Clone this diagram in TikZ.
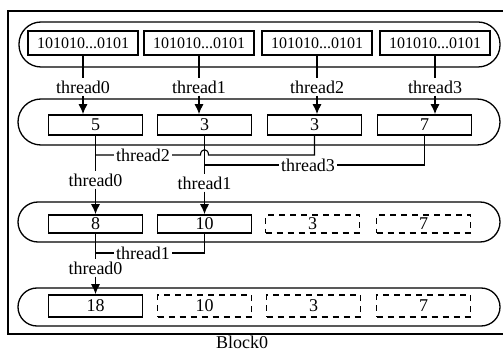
\documentclass[tikz,border=0pt]{standalone}
\usepackage{fontspec}
\setmainfont{Liberation Serif}
\usetikzlibrary{arrows.meta}

\begin{document}
\begin{tikzpicture}[x=0.5pt,y=-0.5pt,
  cell/.style={draw,line width=0.85pt,minimum width=47pt,minimum height=10pt,
    inner sep=0pt,font=\fontsize{9}{10}\selectfont},
  bits/.style={cell,minimum width=55pt,minimum height=12pt,font=\fontsize{8}{9}\selectfont},
  ghost/.style={cell,dash pattern=on 3pt off 2.5pt},
  lane/.style={line width=0.65pt,rounded corners=#1},
  tname/.style={inner sep=1pt,font=\fontsize{9}{10}\selectfont},
  tlink/.style={line width=0.55pt},
  >={Latex[length=5pt,width=4.5pt]}]
\useasboundingbox (0,0) rectangle (503,352);
% frame and lanes
\draw[line width=0.65pt] (503,11) -| (8,334) -- (503,334);
\draw[lane=11pt] (19,22) rectangle (500,67);
\draw[lane=11.5pt] (18,99) rectangle (500,145);
\draw[lane=10pt] (18,202) rectangle (500,242);
\draw[lane=9.5pt] (18,288) rectangle (500,326);
% cells
\node[bits] (a1) at (83,43) {101010...0101};
\node[bits] (a2) at (199,43) {101010...0101};
\node[bits] (a3) at (317,43) {101010...0101};
\node[bits] (a4) at (435,43) {101010...0101};
\node[cell] (b1) at (95.5,125) {5};
\node[cell] (b2) at (204.5,125) {3};
\node[cell] (b3) at (314.5,125) {3};
\node[cell] (b4) at (424.5,125) {7};
\node[cell,minimum height=9pt] (c1) at (95.5,224) {8};
\node[cell,minimum height=9pt] (c2) at (204.5,224) {10};
\node[ghost,minimum height=9pt] (c3) at (312.5,224) {3};
\node[ghost,minimum height=9pt] (c4) at (423.5,224) {7};
\node[cell,minimum height=11pt] (d1) at (95.5,306) {18};
\node[ghost,minimum height=11pt] (d2) at (204.5,306) {10};
\node[ghost,minimum height=11pt] (d3) at (313.5,306) {3};
\node[ghost,minimum height=11pt] (d4) at (423.5,306) {7};
% first step
\node[tname] (ta0) at (83,87) {thread0};
\node[tname] (ta1) at (199,87) {thread1};
\node[tname] (ta2) at (317,87) {thread2};
\node[tname] (ta3) at (435,87) {thread3};
\foreach \i in {1,...,4}{
  \pgfmathtruncatemacro\t{\i-1}
  \draw[tlink] (a\i) -- (ta\t);
  \draw[tlink,->] (ta\t) -- (ta\t |- b\i.north);
}
% second step
\node[tname] (tb0) at (95.5,180) {thread0};
\node[tname] (tb1) at (204.5,183) {thread1};
\coordinate (jb2) at (95.5,155);
\coordinate (jb3) at (204.5,165);
\draw[tlink] (b1) -- (tb0);
\draw[tlink,->] (tb0) -- (c1);
\draw[tlink] (b2) -- (tb1);
\draw[tlink,->] (tb1) -- (c2);
\draw[tlink] (b3.south) |- (208.5,155) .. controls (208.5,148) and (200.5,148) .. (200.5,155) -- (jb2);
\draw[tlink] (b4.south) |- (jb3);
\node[tname,fill=white] (tb2) at (143,155) {thread2};
\node[tname,fill=white] (tb3) at (308,165) {thread3};
% third step
\node[tname] (tc0) at (95.5,268) {thread0};
\coordinate (jc1) at (95.5,253);
\draw[tlink] (c1) -- (tc0);
\draw[tlink,->] (tc0) -- (d1);
\draw[tlink] (c2.south) |- (jc1);
\node[tname,fill=white] (tc1) at (143,253) {thread1};
\node[tname,inner sep=0pt] (blk) at (242,342) {Block0};
\end{tikzpicture}
\end{document}
